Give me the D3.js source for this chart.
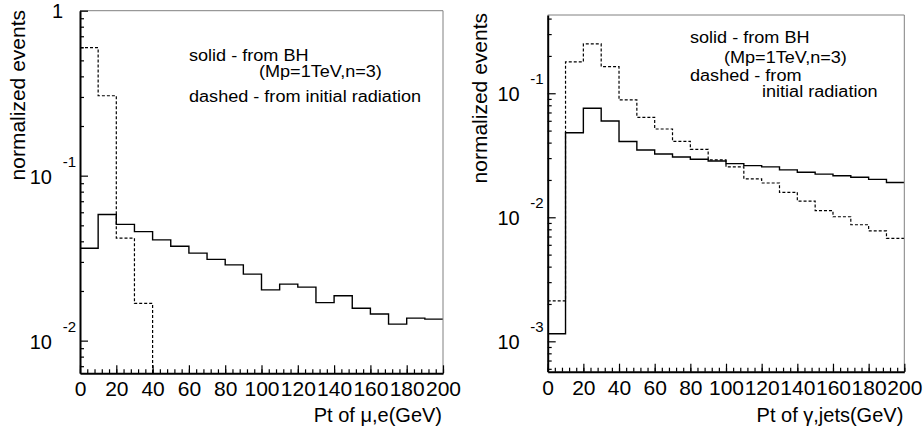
<html>
<head>
<script src="https://cdnjs.cloudflare.com/ajax/libs/d3/7.8.5/d3.min.js"></script>
<style>
  body { margin: 0; background: #fff; }
  svg text { font-family: "Liberation Sans", Arial, Helvetica, sans-serif; fill: #000; }
  .frame { fill: none; stroke: #808080; stroke-width: 1; }
  .axis path { stroke: #000; stroke-width: 2; }
  .axis line { stroke: #000; stroke-width: 1.2; }
  .hist { fill: none; stroke: #000; stroke-width: 1.4; }
  .dashed { stroke-dasharray: 3,2; stroke-width: 1.2; }
</style>
</head>
<body>
<svg width="924" height="435"></svg>
<script>
// bin edges (GeV), 10 GeV wide
var binEdges = d3.range(0, 201, 10);
var xTicks = [0, 20, 40, 60, 80, 100, 120, 140, 160, 180, 200];

// left: Pt of mu,e
var leftSolid  = [0.0363, 0.0581, 0.0507, 0.0458, 0.0408, 0.0373, 0.0339, 0.0311, 0.0288, 0.0253,
                  0.0203, 0.0220, 0.0211, 0.0170, 0.0187, 0.0157, 0.0145, 0.0126, 0.0137, 0.0135];
var leftDashed = [0.597, 0.305, 0.0418, 0.0168, 0];
var leftDecades = [0, -1, -2];

// right: Pt of gamma,jets
var rightSolid  = [0.00115, 0.0481, 0.0757, 0.0598, 0.0408, 0.0349, 0.0324, 0.0306, 0.0294, 0.0284,
                   0.0271, 0.0261, 0.0255, 0.0241, 0.0231, 0.0223, 0.0216, 0.0210, 0.0202, 0.0191];
var rightDashed = [0.00212, 0.179, 0.250, 0.164, 0.0883, 0.0640, 0.0515, 0.0410, 0.0353, 0.0290,
                   0.0255, 0.0204, 0.0189, 0.0159, 0.0135, 0.0113, 0.0101, 0.00871, 0.00776, 0.00677];
var rightDecades = [-1, -2, -3];

var svg = d3.select("svg");

function drawPanel(p) {
  var x = d3.scaleLinear().domain([0, 200]).range([p.left, p.right]);
  var y = d3.scaleLog().domain(p.yDomain).range([p.bottom, p.top]);
  var g = svg.append("g");
  var clipId = "clip" + p.id;
  g.append("clipPath").attr("id", clipId).append("rect")
    .attr("x", p.left).attr("y", p.top)
    .attr("width", p.right - p.left).attr("height", p.bottom - p.top);

  function steps(vals) {
    var pts = [];
    vals.forEach(function(v, i) {
      var yy = v > 0 ? y(v) : p.bottom + 2;
      pts.push([x(binEdges[i]), yy]);
      pts.push([x(binEdges[i + 1]), yy]);
    });
    return pts;
  }
  var line = d3.line();
  g.append("path").attr("class", "hist dashed").attr("clip-path", "url(#" + clipId + ")")
    .attr("d", line(steps(p.dashed)));
  g.append("path").attr("class", "hist").attr("clip-path", "url(#" + clipId + ")")
    .attr("d", line(steps(p.solid)));

  // frame (top, right grey)
  g.append("path").attr("class", "frame")
    .attr("d", "M" + p.left + "," + p.top + "H" + p.right + "V" + p.bottom);

  // minor y ticks 2..9 per decade
  var lo = Math.floor(Math.log10(p.yDomain[0])), hi = Math.ceil(Math.log10(p.yDomain[1]));
  var minor = [];
  for (var e = lo; e < hi; e++) for (var m = 2; m <= 9; m++) {
    var v = m * Math.pow(10, e);
    if (v >= p.yDomain[0] && v <= p.yDomain[1]) minor.push(v);
  }
  g.append("g").attr("class", "axis").attr("transform", "translate(" + p.left + ",0)")
    .call(d3.axisLeft(y).tickValues(minor).tickSize(-4).tickFormat(""))
    .select(".domain").remove();
  g.append("g").attr("class", "axis").attr("transform", "translate(" + p.left + ",0)")
    .call(d3.axisLeft(y).tickValues(p.decades.map(function(d) { return Math.pow(10, d); }))
      .tickSize(-8).tickSizeOuter(0).tickFormat(""));

  // decade labels
  p.decades.forEach(function(d) {
    var ty = y(Math.pow(10, d));
    if (d === 0) {
      g.append("text").attr("x", p.left - 17).attr("y", ty + 7)
        .style("font-size", "20px").style("text-anchor", "end").text("1");
    } else {
      g.append("text").attr("x", p.left - 28).attr("y", ty + 8)
        .style("font-size", "20px").style("text-anchor", "end").text("10");
      g.append("text").attr("x", p.left - 4).attr("y", ty - 9)
        .style("font-size", "15px").style("text-anchor", "end").text(String(d));
    }
  });

  // x axis
  g.append("g").attr("class", "axis").attr("transform", "translate(0," + p.bottom + ")")
    .call(d3.axisBottom(x).tickValues(d3.range(0, 201, 4)).tickSize(-4).tickFormat(""))
    .select(".domain").remove();
  var xAx = g.append("g").attr("class", "axis").attr("transform", "translate(0," + p.bottom + ")")
    .call(d3.axisBottom(x).tickValues(xTicks).tickSize(-8).tickSizeOuter(0).tickPadding(8));
  xAx.selectAll("text").style("font-size", "21px");

  // titles
  g.append("text").attr("x", p.right - 1).attr("y", 422)
    .style("font-size", "20px").style("text-anchor", "end").text(p.xTitle);
  g.append("text").attr("transform", "translate(" + p.yTitleX + "," + p.yTitleY + ") rotate(-90)")
    .style("font-size", "21px").style("text-anchor", "end").text("normalized events");

  // legend text (slightly stretched like the original)
  p.legend.forEach(function(l) {
    g.append("text").attr("transform", "translate(" + l[0] + "," + l[1] + ") scale(1.13,1)")
      .style("font-size", "16px").text(l[2]);
  });
}

drawPanel({
  id: "L", left: 80, right: 443, top: 10.7, bottom: 373.3,
  yDomain: [Math.pow(10, -2.198), 1],
  solid: leftSolid, dashed: leftDashed, decades: leftDecades,
  xTitle: "Pt of \u03bc,e(GeV)", yTitleX: 25, yTitleY: 10,
  legend: [[189, 61, "solid - from BH"], [259, 77, "(Mp=1TeV,n=3)"],
           [189, 102, "dashed - from initial radiation"]]
});

drawPanel({
  id: "R", left: 547.7, right: 904.3, top: 15, bottom: 371.7,
  yDomain: [Math.pow(10, -3.245), Math.pow(10, -0.369)],
  solid: rightSolid, dashed: rightDashed, decades: rightDecades,
  xTitle: "Pt of \u03b3,jets(GeV)", yTitleX: 487, yTitleY: 13,
  legend: [[690, 43, "solid - from BH"], [724, 63, "(Mp=1TeV,n=3)"],
           [690, 81, "dashed - from"], [762, 97, "initial radiation"]]
});
</script>
</body>
</html>
